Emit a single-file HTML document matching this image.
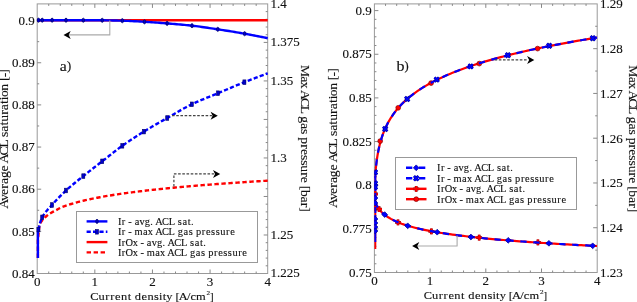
<!DOCTYPE html><html><head><meta charset="utf-8"><style>html,body{margin:0;padding:0;background:#fff;width:637px;height:302px;overflow:hidden}</style></head><body><svg width="637" height="302" viewBox="0 0 637 302" style="display:block;font-family:'Liberation Serif', serif;will-change:transform">
<rect width="637" height="302" fill="#fff"/>
<rect x="37.2" y="3.9" width="230.5" height="269.6" fill="none" stroke="#999999" stroke-width="1"/>
<line x1="48.73" y1="273.5" x2="48.73" y2="271.5" stroke="#888888" stroke-width="1" />
<line x1="48.73" y1="3.9" x2="48.73" y2="5.9" stroke="#888888" stroke-width="1" />
<line x1="60.25" y1="273.5" x2="60.25" y2="271.5" stroke="#888888" stroke-width="1" />
<line x1="60.25" y1="3.9" x2="60.25" y2="5.9" stroke="#888888" stroke-width="1" />
<line x1="71.78" y1="273.5" x2="71.78" y2="271.5" stroke="#888888" stroke-width="1" />
<line x1="71.78" y1="3.9" x2="71.78" y2="5.9" stroke="#888888" stroke-width="1" />
<line x1="83.3" y1="273.5" x2="83.3" y2="271.5" stroke="#888888" stroke-width="1" />
<line x1="83.3" y1="3.9" x2="83.3" y2="5.9" stroke="#888888" stroke-width="1" />
<line x1="94.83" y1="273.5" x2="94.83" y2="269.5" stroke="#888888" stroke-width="1" />
<line x1="94.83" y1="3.9" x2="94.83" y2="7.9" stroke="#888888" stroke-width="1" />
<line x1="106.35" y1="273.5" x2="106.35" y2="271.5" stroke="#888888" stroke-width="1" />
<line x1="106.35" y1="3.9" x2="106.35" y2="5.9" stroke="#888888" stroke-width="1" />
<line x1="117.88" y1="273.5" x2="117.88" y2="271.5" stroke="#888888" stroke-width="1" />
<line x1="117.88" y1="3.9" x2="117.88" y2="5.9" stroke="#888888" stroke-width="1" />
<line x1="129.4" y1="273.5" x2="129.4" y2="271.5" stroke="#888888" stroke-width="1" />
<line x1="129.4" y1="3.9" x2="129.4" y2="5.9" stroke="#888888" stroke-width="1" />
<line x1="140.93" y1="273.5" x2="140.93" y2="271.5" stroke="#888888" stroke-width="1" />
<line x1="140.93" y1="3.9" x2="140.93" y2="5.9" stroke="#888888" stroke-width="1" />
<line x1="152.45" y1="273.5" x2="152.45" y2="269.5" stroke="#888888" stroke-width="1" />
<line x1="152.45" y1="3.9" x2="152.45" y2="7.9" stroke="#888888" stroke-width="1" />
<line x1="163.98" y1="273.5" x2="163.98" y2="271.5" stroke="#888888" stroke-width="1" />
<line x1="163.98" y1="3.9" x2="163.98" y2="5.9" stroke="#888888" stroke-width="1" />
<line x1="175.5" y1="273.5" x2="175.5" y2="271.5" stroke="#888888" stroke-width="1" />
<line x1="175.5" y1="3.9" x2="175.5" y2="5.9" stroke="#888888" stroke-width="1" />
<line x1="187.02" y1="273.5" x2="187.02" y2="271.5" stroke="#888888" stroke-width="1" />
<line x1="187.02" y1="3.9" x2="187.02" y2="5.9" stroke="#888888" stroke-width="1" />
<line x1="198.55" y1="273.5" x2="198.55" y2="271.5" stroke="#888888" stroke-width="1" />
<line x1="198.55" y1="3.9" x2="198.55" y2="5.9" stroke="#888888" stroke-width="1" />
<line x1="210.07" y1="273.5" x2="210.07" y2="269.5" stroke="#888888" stroke-width="1" />
<line x1="210.07" y1="3.9" x2="210.07" y2="7.9" stroke="#888888" stroke-width="1" />
<line x1="221.6" y1="273.5" x2="221.6" y2="271.5" stroke="#888888" stroke-width="1" />
<line x1="221.6" y1="3.9" x2="221.6" y2="5.9" stroke="#888888" stroke-width="1" />
<line x1="233.12" y1="273.5" x2="233.12" y2="271.5" stroke="#888888" stroke-width="1" />
<line x1="233.12" y1="3.9" x2="233.12" y2="5.9" stroke="#888888" stroke-width="1" />
<line x1="244.65" y1="273.5" x2="244.65" y2="271.5" stroke="#888888" stroke-width="1" />
<line x1="244.65" y1="3.9" x2="244.65" y2="5.9" stroke="#888888" stroke-width="1" />
<line x1="256.18" y1="273.5" x2="256.18" y2="271.5" stroke="#888888" stroke-width="1" />
<line x1="256.18" y1="3.9" x2="256.18" y2="5.9" stroke="#888888" stroke-width="1" />
<line x1="37.2" y1="252.42" x2="39.2" y2="252.42" stroke="#888888" stroke-width="1" />
<line x1="37.2" y1="231.35" x2="41.2" y2="231.35" stroke="#888888" stroke-width="1" />
<line x1="37.2" y1="210.27" x2="39.2" y2="210.27" stroke="#888888" stroke-width="1" />
<line x1="37.2" y1="189.2" x2="41.2" y2="189.2" stroke="#888888" stroke-width="1" />
<line x1="37.2" y1="168.12" x2="39.2" y2="168.12" stroke="#888888" stroke-width="1" />
<line x1="37.2" y1="147.05" x2="41.2" y2="147.05" stroke="#888888" stroke-width="1" />
<line x1="37.2" y1="125.97" x2="39.2" y2="125.97" stroke="#888888" stroke-width="1" />
<line x1="37.2" y1="104.9" x2="41.2" y2="104.9" stroke="#888888" stroke-width="1" />
<line x1="37.2" y1="83.82" x2="39.2" y2="83.82" stroke="#888888" stroke-width="1" />
<line x1="37.2" y1="62.75" x2="41.2" y2="62.75" stroke="#888888" stroke-width="1" />
<line x1="37.2" y1="41.67" x2="39.2" y2="41.67" stroke="#888888" stroke-width="1" />
<line x1="37.2" y1="20.6" x2="41.2" y2="20.6" stroke="#888888" stroke-width="1" />
<line x1="267.7" y1="265.8" x2="265.7" y2="265.8" stroke="#888888" stroke-width="1" />
<line x1="267.7" y1="258.09" x2="265.7" y2="258.09" stroke="#888888" stroke-width="1" />
<line x1="267.7" y1="250.39" x2="265.7" y2="250.39" stroke="#888888" stroke-width="1" />
<line x1="267.7" y1="242.69" x2="265.7" y2="242.69" stroke="#888888" stroke-width="1" />
<line x1="267.7" y1="234.99" x2="263.7" y2="234.99" stroke="#888888" stroke-width="1" />
<line x1="267.7" y1="227.28" x2="265.7" y2="227.28" stroke="#888888" stroke-width="1" />
<line x1="267.7" y1="219.58" x2="265.7" y2="219.58" stroke="#888888" stroke-width="1" />
<line x1="267.7" y1="211.88" x2="265.7" y2="211.88" stroke="#888888" stroke-width="1" />
<line x1="267.7" y1="204.17" x2="265.7" y2="204.17" stroke="#888888" stroke-width="1" />
<line x1="267.7" y1="196.47" x2="263.7" y2="196.47" stroke="#888888" stroke-width="1" />
<line x1="267.7" y1="188.77" x2="265.7" y2="188.77" stroke="#888888" stroke-width="1" />
<line x1="267.7" y1="181.07" x2="265.7" y2="181.07" stroke="#888888" stroke-width="1" />
<line x1="267.7" y1="173.36" x2="265.7" y2="173.36" stroke="#888888" stroke-width="1" />
<line x1="267.7" y1="165.66" x2="265.7" y2="165.66" stroke="#888888" stroke-width="1" />
<line x1="267.7" y1="157.96" x2="263.7" y2="157.96" stroke="#888888" stroke-width="1" />
<line x1="267.7" y1="150.25" x2="265.7" y2="150.25" stroke="#888888" stroke-width="1" />
<line x1="267.7" y1="142.55" x2="265.7" y2="142.55" stroke="#888888" stroke-width="1" />
<line x1="267.7" y1="134.85" x2="265.7" y2="134.85" stroke="#888888" stroke-width="1" />
<line x1="267.7" y1="127.15" x2="265.7" y2="127.15" stroke="#888888" stroke-width="1" />
<line x1="267.7" y1="119.44" x2="263.7" y2="119.44" stroke="#888888" stroke-width="1" />
<line x1="267.7" y1="111.74" x2="265.7" y2="111.74" stroke="#888888" stroke-width="1" />
<line x1="267.7" y1="104.04" x2="265.7" y2="104.04" stroke="#888888" stroke-width="1" />
<line x1="267.7" y1="96.33" x2="265.7" y2="96.33" stroke="#888888" stroke-width="1" />
<line x1="267.7" y1="88.63" x2="265.7" y2="88.63" stroke="#888888" stroke-width="1" />
<line x1="267.7" y1="80.93" x2="263.7" y2="80.93" stroke="#888888" stroke-width="1" />
<line x1="267.7" y1="73.23" x2="265.7" y2="73.23" stroke="#888888" stroke-width="1" />
<line x1="267.7" y1="65.52" x2="265.7" y2="65.52" stroke="#888888" stroke-width="1" />
<line x1="267.7" y1="57.82" x2="265.7" y2="57.82" stroke="#888888" stroke-width="1" />
<line x1="267.7" y1="50.12" x2="265.7" y2="50.12" stroke="#888888" stroke-width="1" />
<line x1="267.7" y1="42.41" x2="263.7" y2="42.41" stroke="#888888" stroke-width="1" />
<line x1="267.7" y1="34.71" x2="265.7" y2="34.71" stroke="#888888" stroke-width="1" />
<line x1="267.7" y1="27.01" x2="265.7" y2="27.01" stroke="#888888" stroke-width="1" />
<line x1="267.7" y1="19.31" x2="265.7" y2="19.31" stroke="#888888" stroke-width="1" />
<line x1="267.7" y1="11.6" x2="265.7" y2="11.6" stroke="#888888" stroke-width="1" />
<line x1="37.2" y1="20.2" x2="267.7" y2="20.2" stroke="#ff0000" stroke-width="2.4" />
<polyline points="37.2,20.2 39.14,20.2 41.07,20.2 43.01,20.2 44.95,20.2 46.88,20.2 48.82,20.2 50.76,20.2 52.7,20.2 54.63,20.21 56.57,20.21 58.51,20.21 60.44,20.21 62.38,20.21 64.32,20.22 66.25,20.22 68.19,20.22 70.13,20.22 72.07,20.23 74,20.23 75.94,20.23 77.88,20.24 79.81,20.24 81.75,20.24 83.69,20.25 85.62,20.25 87.56,20.26 89.5,20.26 91.44,20.27 93.37,20.27 95.31,20.28 97.25,20.28 99.18,20.29 101.12,20.3 103.06,20.3 104.99,20.32 106.93,20.34 108.87,20.37 110.81,20.4 112.74,20.45 114.68,20.49 116.62,20.54 118.55,20.59 120.49,20.65 122.43,20.7 124.36,20.76 126.3,20.84 128.24,20.92 130.17,21.01 132.11,21.1 134.05,21.2 135.99,21.31 137.92,21.42 139.86,21.53 141.8,21.64 143.73,21.76 145.67,21.87 147.61,21.99 149.54,22.11 151.48,22.24 153.42,22.37 155.36,22.51 157.29,22.65 159.23,22.79 161.17,22.94 163.1,23.08 165.04,23.24 166.98,23.39 168.91,23.55 170.85,23.7 172.79,23.86 174.73,24.03 176.66,24.2 178.6,24.37 180.54,24.54 182.47,24.72 184.41,24.91 186.35,25.1 188.28,25.3 190.22,25.51 192.16,25.72 194.09,25.94 196.03,26.18 197.97,26.43 199.91,26.68 201.84,26.95 203.78,27.23 205.72,27.51 207.65,27.79 209.59,28.08 211.53,28.38 213.46,28.67 215.4,28.97 217.34,29.26 219.28,29.55 221.21,29.85 223.15,30.15 225.09,30.45 227.02,30.76 228.96,31.06 230.9,31.38 232.83,31.69 234.77,32.01 236.71,32.34 238.65,32.66 240.58,33 242.52,33.33 244.46,33.67 246.39,34.02 248.33,34.37 250.27,34.73 252.2,35.1 254.14,35.47 256.08,35.84 258.02,36.23 259.95,36.61 261.89,37 263.83,37.4 265.76,37.8 267.7,38.2" fill="none" stroke="#0000ff" stroke-width="2.4" stroke-linejoin="round" />
<ellipse cx="38.5" cy="20.2" rx="1.3" ry="2.1" fill="#0000cc" stroke="#000066" stroke-width="0.7"/>
<ellipse cx="42.2" cy="20.2" rx="1.3" ry="2.1" fill="#0000cc" stroke="#000066" stroke-width="0.7"/>
<ellipse cx="52.1" cy="20.2" rx="1.3" ry="2.1" fill="#0000cc" stroke="#000066" stroke-width="0.7"/>
<ellipse cx="66" cy="20.22" rx="1.3" ry="2.1" fill="#0000cc" stroke="#000066" stroke-width="0.7"/>
<ellipse cx="83.3" cy="20.25" rx="1.3" ry="2.1" fill="#0000cc" stroke="#000066" stroke-width="0.7"/>
<ellipse cx="102.2" cy="20.3" rx="1.3" ry="2.1" fill="#0000cc" stroke="#000066" stroke-width="0.7"/>
<ellipse cx="122.3" cy="20.7" rx="1.3" ry="2.1" fill="#0000cc" stroke="#000066" stroke-width="0.7"/>
<ellipse cx="144.5" cy="21.8" rx="1.3" ry="2.1" fill="#0000cc" stroke="#000066" stroke-width="0.7"/>
<ellipse cx="167.1" cy="23.4" rx="1.3" ry="2.1" fill="#0000cc" stroke="#000066" stroke-width="0.7"/>
<ellipse cx="192" cy="25.7" rx="1.3" ry="2.1" fill="#0000cc" stroke="#000066" stroke-width="0.7"/>
<ellipse cx="217.8" cy="29.33" rx="1.3" ry="2.1" fill="#0000cc" stroke="#000066" stroke-width="0.7"/>
<ellipse cx="244.6" cy="33.7" rx="1.3" ry="2.1" fill="#0000cc" stroke="#000066" stroke-width="0.7"/>
<polyline points="37.9,258 37.9,240 39.35,225.84 40.79,222.36 42.24,220.22 43.68,218.62 45.13,217.23 46.57,215.98 48.02,214.86 49.46,213.85 50.91,212.94 52.35,212.14 53.8,211.39 55.24,210.66 56.69,209.87 58.13,209.04 59.58,208.25 61.02,207.58 62.47,206.99 63.92,206.45 65.36,205.93 66.81,205.42 68.25,204.93 69.7,204.46 71.14,204 72.59,203.56 74.03,203.14 75.48,202.73 76.92,202.33 78.37,201.95 79.81,201.57 81.26,201.21 82.7,200.85 84.15,200.51 85.59,200.17 87.04,199.85 88.48,199.53 89.93,199.21 91.38,198.91 92.82,198.61 94.27,198.32 95.71,198.03 97.16,197.75 98.6,197.48 100.05,197.21 101.49,196.95 102.94,196.69 104.38,196.44 105.83,196.19 107.27,195.94 108.72,195.7 110.16,195.46 111.61,195.23 113.05,195 114.5,194.78 115.95,194.56 117.39,194.34 118.84,194.12 120.28,193.91 121.73,193.71 123.17,193.5 124.62,193.3 126.06,193.1 127.51,192.9 128.95,192.71 130.4,192.52 131.84,192.33 133.29,192.14 134.73,191.96 136.18,191.77 137.62,191.59 139.07,191.42 140.52,191.24 141.96,191.07 143.41,190.9 144.85,190.73 146.3,190.56 147.74,190.4 149.19,190.23 150.63,190.07 152.08,189.91 153.52,189.75 154.97,189.59 156.41,189.44 157.86,189.29 159.3,189.13 160.75,188.98 162.19,188.84 163.64,188.69 165.08,188.54 166.53,188.4 167.98,188.25 169.42,188.11 170.87,187.97 172.31,187.83 173.76,187.7 175.2,187.56 176.65,187.42 178.09,187.29 179.54,187.16 180.98,187.02 182.43,186.89 183.87,186.76 185.32,186.64 186.76,186.51 188.21,186.38 189.65,186.26 191.1,186.13 192.55,186.01 193.99,185.89 195.44,185.77 196.88,185.65 198.33,185.53 199.77,185.41 201.22,185.29 202.66,185.17 204.11,185.06 205.55,184.94 207,184.83 208.44,184.71 209.89,184.6 211.33,184.49 212.78,184.38 214.22,184.27 215.67,184.16 217.12,184.05 218.56,183.94 220.01,183.84 221.45,183.73 222.9,183.62 224.34,183.52 225.79,183.41 227.23,183.31 228.68,183.21 230.12,183.11 231.57,183 233.01,182.9 234.46,182.8 235.9,182.7 237.35,182.6 238.79,182.51 240.24,182.41 241.68,182.31 243.13,182.21 244.58,182.12 246.02,182.02 247.47,181.93 248.91,181.83 250.36,181.74 251.8,181.65 253.25,181.55 254.69,181.46 256.14,181.37 257.58,181.28 259.03,181.19 260.47,181.1 261.92,181.01 263.36,180.92 264.81,180.83 266.25,180.74 267.7,180.65" fill="none" stroke="#ff0000" stroke-width="2.4" stroke-linejoin="round" stroke-dasharray="4.4 2.6"/>
<polyline points="37.9,258 37.9,232 38.4,229.6" fill="none" stroke="#0000ff" stroke-width="2.4" stroke-linejoin="round" />
<polyline points="38.4,229.6 39.94,223.15 41.48,218.81 43.02,215.86 44.56,213.48 46.09,211.46 47.63,209.68 49.17,208.04 50.71,206.42 52.25,204.71 53.79,202.98 55.33,201.28 56.87,199.62 58.41,197.99 59.94,196.4 61.48,194.85 63.02,193.33 64.56,191.85 66.1,190.41 67.64,189.01 69.18,187.64 70.72,186.31 72.26,185.02 73.8,183.74 75.33,182.49 76.87,181.24 78.41,180.01 79.95,178.78 81.49,177.55 83.03,176.32 84.57,175.08 86.11,173.85 87.65,172.63 89.18,171.42 90.72,170.21 92.26,169.01 93.8,167.81 95.34,166.62 96.88,165.42 98.42,164.23 99.96,163.04 101.5,161.85 103.03,160.65 104.57,159.44 106.11,158.23 107.65,157.01 109.19,155.8 110.73,154.58 112.27,153.37 113.81,152.16 115.35,150.97 116.89,149.79 118.42,148.63 119.96,147.49 121.5,146.37 123.04,145.28 124.58,144.2 126.12,143.13 127.66,142.08 129.2,141.04 130.74,140.01 132.27,138.99 133.81,137.99 135.35,136.99 136.89,136 138.43,135.02 139.97,134.05 141.51,133.09 143.05,132.13 144.59,131.18 146.12,130.23 147.66,129.3 149.2,128.38 150.74,127.47 152.28,126.56 153.82,125.66 155.36,124.77 156.9,123.88 158.44,123 159.98,122.12 161.51,121.24 163.05,120.36 164.59,119.49 166.13,118.61 167.67,117.73 169.21,116.85 170.75,115.96 172.29,115.06 173.83,114.17 175.36,113.27 176.9,112.38 178.44,111.49 179.98,110.6 181.52,109.73 183.06,108.87 184.6,108.02 186.14,107.19 187.68,106.37 189.21,105.58 190.75,104.81 192.29,104.06 193.83,103.34 195.37,102.63 196.91,101.94 198.45,101.26 199.99,100.6 201.53,99.95 203.07,99.3 204.6,98.67 206.14,98.04 207.68,97.41 209.22,96.79 210.76,96.17 212.3,95.55 213.84,94.92 215.38,94.29 216.92,93.65 218.45,93.01 219.99,92.36 221.53,91.71 223.07,91.06 224.61,90.41 226.15,89.75 227.69,89.1 229.23,88.45 230.77,87.8 232.3,87.16 233.84,86.51 235.38,85.87 236.92,85.23 238.46,84.6 240,83.97 241.54,83.34 243.08,82.73 244.62,82.11 246.16,81.51 247.69,80.9 249.23,80.31 250.77,79.71 252.31,79.12 253.85,78.53 255.39,77.94 256.93,77.36 258.47,76.79 260.01,76.21 261.54,75.64 263.08,75.08 264.62,74.51 266.16,73.95 267.7,73.4" fill="none" stroke="#0000ff" stroke-width="2.4" stroke-linejoin="round" stroke-dasharray="4.2 2.2"/>
<rect x="36.9" y="227.3" width="3" height="4.6" fill="#0000cc" stroke="#000066" stroke-width="0.6"/>
<rect x="40.7" y="215" width="3" height="4.6" fill="#0000cc" stroke="#000066" stroke-width="0.6"/>
<rect x="50.5" y="202.7" width="3" height="4.6" fill="#0000cc" stroke="#000066" stroke-width="0.6"/>
<rect x="64.5" y="188.2" width="3" height="4.6" fill="#0000cc" stroke="#000066" stroke-width="0.6"/>
<rect x="81.8" y="173.8" width="3" height="4.6" fill="#0000cc" stroke="#000066" stroke-width="0.6"/>
<rect x="100.7" y="159" width="3" height="4.6" fill="#0000cc" stroke="#000066" stroke-width="0.6"/>
<rect x="120.8" y="143.5" width="3" height="4.6" fill="#0000cc" stroke="#000066" stroke-width="0.6"/>
<rect x="142.4" y="129.3" width="3" height="4.6" fill="#0000cc" stroke="#000066" stroke-width="0.6"/>
<rect x="165.7" y="115.7" width="3" height="4.6" fill="#0000cc" stroke="#000066" stroke-width="0.6"/>
<rect x="190.3" y="102" width="3" height="4.6" fill="#0000cc" stroke="#000066" stroke-width="0.6"/>
<rect x="216.5" y="90.9" width="3" height="4.6" fill="#0000cc" stroke="#000066" stroke-width="0.6"/>
<rect x="242.9" y="79.9" width="3" height="4.6" fill="#0000cc" stroke="#000066" stroke-width="0.6"/>
<polyline points="109.8,20.5 109.8,34.9 69,34.9" fill="none" stroke="#aaaaaa" stroke-width="1.1" stroke-linejoin="round" />
<path d="M63.5,34.9 L70.7,30.9 L68.7,34.9 L70.7,38.9 Z" fill="#000"/>
<g stroke="#444" stroke-width="1.2" stroke-dasharray="2.6 1.6" fill="none">
<polyline points="172,115.7 212,115.7"/>
<polyline points="173.9,186.5 173.9,173.9 214,173.9"/>
</g>
<path d="M217.8,115.7 L210.6,111.7 L212.6,115.7 L210.6,119.7 Z" fill="#000"/>
<path d="M220.2,173.9 L213,169.9 L215,173.9 L213,177.9 Z" fill="#000"/>
<rect x="76.5" y="211.5" width="181" height="51" fill="#fff" stroke="#999" stroke-width="1"/>
<line x1="86.6" y1="221.4" x2="107.4" y2="221.4" stroke="#0000ff" stroke-width="2.4" />
<ellipse cx="97" cy="221.4" rx="1.3" ry="2.1" fill="#0000cc" stroke="#000066" stroke-width="0.7"/>
<line x1="86.6" y1="231.8" x2="107.4" y2="231.8" stroke="#0000ff" stroke-width="2.4" stroke-dasharray="4.2 2.2"/>
<rect x="95.5" y="229.5" width="3" height="4.6" fill="#0000cc" stroke="#000066" stroke-width="0.6"/>
<line x1="86.6" y1="242.1" x2="107.4" y2="242.1" stroke="#ff0000" stroke-width="2.4" />
<line x1="86.6" y1="252.4" x2="107.4" y2="252.4" stroke="#ff0000" stroke-width="2.4" stroke-dasharray="4.4 2.6"/>
<text transform="translate(118 224.8) scale(1.12 1)" x="0.01 3.45 6.97 9.17 12.14 14.85 19.16 23.91 28.85 31.36 33.26 39.38 45.28 50.82 53.45 57.57 62.28 65.24" y="0" font-size="9.3" fill="#111111" stroke="#111111" stroke-width="0.1">Ir - avg. ACL sat.</text>
<text transform="translate(118 235.2) scale(1.12 1)" x="0.01 3.45 6.97 9.17 12.14 14.68 22.32 26.63 31.27 33.18 39.3 45.19 50.74 53.35 58.49 63.12 67.04 69.65 74.84 78.54 83.15 87.19 91.24 96.44 100.14" y="0" font-size="9.3" fill="#111111" stroke="#111111" stroke-width="0.1">Ir - max ACL gas pressure</text>
<text transform="translate(118 245.5) scale(1.12 1)" x="0.01 3.45 6.76 13.24 17.88 20.08 23.05 25.76 30.07 34.82 39.76 42.27 44.17 50.29 56.19 61.73 64.36 68.48 73.19 76.15" y="0" font-size="9.3" fill="#111111" stroke="#111111" stroke-width="0.1">IrOx - avg. ACL sat.</text>
<text transform="translate(118 255.8) scale(1.12 1)" x="0.01 3.45 6.76 13.24 17.88 20.08 23.05 25.59 33.23 37.54 42.18 44.09 50.21 56.1 61.65 64.26 69.4 74.03 77.95 80.56 85.75 89.45 94.06 98.1 102.15 107.35 111.05" y="0" font-size="9.3" fill="#111111" stroke="#111111" stroke-width="0.1">IrOx - max ACL gas pressure</text>
<text x="34.7" y="277.7" font-size="11.6" text-anchor="end" textLength="22.75" lengthAdjust="spacingAndGlyphs" fill="#111111" stroke="#111111" stroke-width="0.12">0.84</text>
<text x="34.7" y="235.55" font-size="11.6" text-anchor="end" textLength="22.75" lengthAdjust="spacingAndGlyphs" fill="#111111" stroke="#111111" stroke-width="0.12">0.85</text>
<text x="34.7" y="193.4" font-size="11.6" text-anchor="end" textLength="22.75" lengthAdjust="spacingAndGlyphs" fill="#111111" stroke="#111111" stroke-width="0.12">0.86</text>
<text x="34.7" y="151.25" font-size="11.6" text-anchor="end" textLength="22.75" lengthAdjust="spacingAndGlyphs" fill="#111111" stroke="#111111" stroke-width="0.12">0.87</text>
<text x="34.7" y="109.1" font-size="11.6" text-anchor="end" textLength="22.75" lengthAdjust="spacingAndGlyphs" fill="#111111" stroke="#111111" stroke-width="0.12">0.88</text>
<text x="34.7" y="66.95" font-size="11.6" text-anchor="end" textLength="22.75" lengthAdjust="spacingAndGlyphs" fill="#111111" stroke="#111111" stroke-width="0.12">0.89</text>
<text x="34.7" y="24.8" font-size="11.6" text-anchor="end" textLength="16.25" lengthAdjust="spacingAndGlyphs" fill="#111111" stroke="#111111" stroke-width="0.12">0.9</text>
<text x="270.5" y="7.7" font-size="11.6" text-anchor="start" textLength="16.25" lengthAdjust="spacingAndGlyphs" fill="#111111" stroke="#111111" stroke-width="0.12">1.4</text>
<text x="270.5" y="46.21" font-size="11.6" text-anchor="start" textLength="29.25" lengthAdjust="spacingAndGlyphs" fill="#111111" stroke="#111111" stroke-width="0.12">1.375</text>
<text x="270.5" y="84.73" font-size="11.6" text-anchor="start" textLength="22.75" lengthAdjust="spacingAndGlyphs" fill="#111111" stroke="#111111" stroke-width="0.12">1.35</text>
<text x="270.5" y="161.76" font-size="11.6" text-anchor="start" textLength="16.25" lengthAdjust="spacingAndGlyphs" fill="#111111" stroke="#111111" stroke-width="0.12">1.3</text>
<text x="270.5" y="238.79" font-size="11.6" text-anchor="start" textLength="22.75" lengthAdjust="spacingAndGlyphs" fill="#111111" stroke="#111111" stroke-width="0.12">1.25</text>
<text x="270.5" y="277.3" font-size="11.6" text-anchor="start" textLength="29.25" lengthAdjust="spacingAndGlyphs" fill="#111111" stroke="#111111" stroke-width="0.12">1.225</text>
<text x="37.2" y="285.9" font-size="11.6" text-anchor="middle" textLength="6.5" lengthAdjust="spacingAndGlyphs" fill="#111111" stroke="#111111" stroke-width="0.12">0</text>
<text x="94.83" y="285.9" font-size="11.6" text-anchor="middle" textLength="6.5" lengthAdjust="spacingAndGlyphs" fill="#111111" stroke="#111111" stroke-width="0.12">1</text>
<text x="152.45" y="285.9" font-size="11.6" text-anchor="middle" textLength="6.5" lengthAdjust="spacingAndGlyphs" fill="#111111" stroke="#111111" stroke-width="0.12">2</text>
<text x="210.07" y="285.9" font-size="11.6" text-anchor="middle" textLength="6.5" lengthAdjust="spacingAndGlyphs" fill="#111111" stroke="#111111" stroke-width="0.12">3</text>
<text x="267.7" y="285.9" font-size="11.6" text-anchor="middle" textLength="6.5" lengthAdjust="spacingAndGlyphs" fill="#111111" stroke="#111111" stroke-width="0.12">4</text>
<text transform="translate(90.55 300.1) scale(1.12 1)" x="-0.21 7.15 13.19 17.55 21.82 27.15 33.15 36.59 39.57 45.51 50.83 56.73 61.15 64.44 67.62 73.03 75.8 78.72 86.01 89.19 94.21" y="0" font-size="11.1" fill="#111111" stroke="#111111" stroke-width="0.12">Current density [A/cm</text>
<text x="206.5" y="295.3" font-size="6.8" fill="#111111" stroke="#111111" stroke-width="0.12" textLength="3.6" lengthAdjust="spacingAndGlyphs">2</text>
<text x="210" y="300.1" font-size="11.1" fill="#111111" stroke="#111111" stroke-width="0.12" textLength="3.6" lengthAdjust="spacingAndGlyphs">]</text>
<text transform="translate(8.3 207.6) rotate(-90) scale(1.12 1)" x="-1.12 5.91 11.33 16.87 21.08 26.36 32.31 37.63 39.48 46.58 53.43 60.09 63.03 67.74 73.29 76.7 82.82 87.03 92.58 95.86 98.7 104.37 110.27 112.99 116.3 119.61" y="0" font-size="12.2" fill="#111111" stroke="#111111" stroke-width="0.12">Average ACL saturation [-]</text>
<text transform="translate(301.1 65.8) rotate(90) scale(1.12 1)" x="-0.77 9.32 14.26 19.79 21.64 28.75 35.59 42.26 45.09 51.06 56.44 61.07 63.9 70.01 74.2 79.56 84.23 88.81 94.94 99.13 104.45 107.16 110.83 116.8 122.36 126.31" y="0" font-size="12.2" fill="#111111" stroke="#111111" stroke-width="0.12">Max ACL gas pressure [bar]</text>
<text x="59.7" y="71.2" font-size="14.6" fill="#111111" stroke="#111111" stroke-width="0.15" textLength="7" lengthAdjust="spacingAndGlyphs">a</text>
<text x="67.1" y="70.4" font-size="12.6" fill="#111111" stroke="#111111" stroke-width="0.15" textLength="4.2" lengthAdjust="spacingAndGlyphs">)</text>
<rect x="374.4" y="3.9" width="222.8" height="268.6" fill="none" stroke="#999999" stroke-width="1"/>
<line x1="385.54" y1="272.5" x2="385.54" y2="270.5" stroke="#888888" stroke-width="1" />
<line x1="385.54" y1="3.9" x2="385.54" y2="5.9" stroke="#888888" stroke-width="1" />
<line x1="396.68" y1="272.5" x2="396.68" y2="270.5" stroke="#888888" stroke-width="1" />
<line x1="396.68" y1="3.9" x2="396.68" y2="5.9" stroke="#888888" stroke-width="1" />
<line x1="407.82" y1="272.5" x2="407.82" y2="270.5" stroke="#888888" stroke-width="1" />
<line x1="407.82" y1="3.9" x2="407.82" y2="5.9" stroke="#888888" stroke-width="1" />
<line x1="418.96" y1="272.5" x2="418.96" y2="270.5" stroke="#888888" stroke-width="1" />
<line x1="418.96" y1="3.9" x2="418.96" y2="5.9" stroke="#888888" stroke-width="1" />
<line x1="430.1" y1="272.5" x2="430.1" y2="268.5" stroke="#888888" stroke-width="1" />
<line x1="430.1" y1="3.9" x2="430.1" y2="7.9" stroke="#888888" stroke-width="1" />
<line x1="441.24" y1="272.5" x2="441.24" y2="270.5" stroke="#888888" stroke-width="1" />
<line x1="441.24" y1="3.9" x2="441.24" y2="5.9" stroke="#888888" stroke-width="1" />
<line x1="452.38" y1="272.5" x2="452.38" y2="270.5" stroke="#888888" stroke-width="1" />
<line x1="452.38" y1="3.9" x2="452.38" y2="5.9" stroke="#888888" stroke-width="1" />
<line x1="463.52" y1="272.5" x2="463.52" y2="270.5" stroke="#888888" stroke-width="1" />
<line x1="463.52" y1="3.9" x2="463.52" y2="5.9" stroke="#888888" stroke-width="1" />
<line x1="474.66" y1="272.5" x2="474.66" y2="270.5" stroke="#888888" stroke-width="1" />
<line x1="474.66" y1="3.9" x2="474.66" y2="5.9" stroke="#888888" stroke-width="1" />
<line x1="485.8" y1="272.5" x2="485.8" y2="268.5" stroke="#888888" stroke-width="1" />
<line x1="485.8" y1="3.9" x2="485.8" y2="7.9" stroke="#888888" stroke-width="1" />
<line x1="496.94" y1="272.5" x2="496.94" y2="270.5" stroke="#888888" stroke-width="1" />
<line x1="496.94" y1="3.9" x2="496.94" y2="5.9" stroke="#888888" stroke-width="1" />
<line x1="508.08" y1="272.5" x2="508.08" y2="270.5" stroke="#888888" stroke-width="1" />
<line x1="508.08" y1="3.9" x2="508.08" y2="5.9" stroke="#888888" stroke-width="1" />
<line x1="519.22" y1="272.5" x2="519.22" y2="270.5" stroke="#888888" stroke-width="1" />
<line x1="519.22" y1="3.9" x2="519.22" y2="5.9" stroke="#888888" stroke-width="1" />
<line x1="530.36" y1="272.5" x2="530.36" y2="270.5" stroke="#888888" stroke-width="1" />
<line x1="530.36" y1="3.9" x2="530.36" y2="5.9" stroke="#888888" stroke-width="1" />
<line x1="541.5" y1="272.5" x2="541.5" y2="268.5" stroke="#888888" stroke-width="1" />
<line x1="541.5" y1="3.9" x2="541.5" y2="7.9" stroke="#888888" stroke-width="1" />
<line x1="552.64" y1="272.5" x2="552.64" y2="270.5" stroke="#888888" stroke-width="1" />
<line x1="552.64" y1="3.9" x2="552.64" y2="5.9" stroke="#888888" stroke-width="1" />
<line x1="563.78" y1="272.5" x2="563.78" y2="270.5" stroke="#888888" stroke-width="1" />
<line x1="563.78" y1="3.9" x2="563.78" y2="5.9" stroke="#888888" stroke-width="1" />
<line x1="574.92" y1="272.5" x2="574.92" y2="270.5" stroke="#888888" stroke-width="1" />
<line x1="574.92" y1="3.9" x2="574.92" y2="5.9" stroke="#888888" stroke-width="1" />
<line x1="586.06" y1="272.5" x2="586.06" y2="270.5" stroke="#888888" stroke-width="1" />
<line x1="586.06" y1="3.9" x2="586.06" y2="5.9" stroke="#888888" stroke-width="1" />
<line x1="374.4" y1="263.77" x2="376.4" y2="263.77" stroke="#888888" stroke-width="1" />
<line x1="374.4" y1="255.04" x2="376.4" y2="255.04" stroke="#888888" stroke-width="1" />
<line x1="374.4" y1="246.31" x2="376.4" y2="246.31" stroke="#888888" stroke-width="1" />
<line x1="374.4" y1="237.58" x2="376.4" y2="237.58" stroke="#888888" stroke-width="1" />
<line x1="374.4" y1="228.85" x2="378.4" y2="228.85" stroke="#888888" stroke-width="1" />
<line x1="374.4" y1="220.12" x2="376.4" y2="220.12" stroke="#888888" stroke-width="1" />
<line x1="374.4" y1="211.39" x2="376.4" y2="211.39" stroke="#888888" stroke-width="1" />
<line x1="374.4" y1="202.66" x2="376.4" y2="202.66" stroke="#888888" stroke-width="1" />
<line x1="374.4" y1="193.93" x2="376.4" y2="193.93" stroke="#888888" stroke-width="1" />
<line x1="374.4" y1="185.2" x2="378.4" y2="185.2" stroke="#888888" stroke-width="1" />
<line x1="374.4" y1="176.47" x2="376.4" y2="176.47" stroke="#888888" stroke-width="1" />
<line x1="374.4" y1="167.74" x2="376.4" y2="167.74" stroke="#888888" stroke-width="1" />
<line x1="374.4" y1="159.01" x2="376.4" y2="159.01" stroke="#888888" stroke-width="1" />
<line x1="374.4" y1="150.28" x2="376.4" y2="150.28" stroke="#888888" stroke-width="1" />
<line x1="374.4" y1="141.55" x2="378.4" y2="141.55" stroke="#888888" stroke-width="1" />
<line x1="374.4" y1="132.82" x2="376.4" y2="132.82" stroke="#888888" stroke-width="1" />
<line x1="374.4" y1="124.09" x2="376.4" y2="124.09" stroke="#888888" stroke-width="1" />
<line x1="374.4" y1="115.36" x2="376.4" y2="115.36" stroke="#888888" stroke-width="1" />
<line x1="374.4" y1="106.63" x2="376.4" y2="106.63" stroke="#888888" stroke-width="1" />
<line x1="374.4" y1="97.9" x2="378.4" y2="97.9" stroke="#888888" stroke-width="1" />
<line x1="374.4" y1="89.17" x2="376.4" y2="89.17" stroke="#888888" stroke-width="1" />
<line x1="374.4" y1="80.44" x2="376.4" y2="80.44" stroke="#888888" stroke-width="1" />
<line x1="374.4" y1="71.71" x2="376.4" y2="71.71" stroke="#888888" stroke-width="1" />
<line x1="374.4" y1="62.98" x2="376.4" y2="62.98" stroke="#888888" stroke-width="1" />
<line x1="374.4" y1="54.25" x2="378.4" y2="54.25" stroke="#888888" stroke-width="1" />
<line x1="374.4" y1="45.52" x2="376.4" y2="45.52" stroke="#888888" stroke-width="1" />
<line x1="374.4" y1="36.79" x2="376.4" y2="36.79" stroke="#888888" stroke-width="1" />
<line x1="374.4" y1="28.06" x2="376.4" y2="28.06" stroke="#888888" stroke-width="1" />
<line x1="374.4" y1="19.33" x2="376.4" y2="19.33" stroke="#888888" stroke-width="1" />
<line x1="374.4" y1="10.6" x2="378.4" y2="10.6" stroke="#888888" stroke-width="1" />
<line x1="597.2" y1="250.12" x2="595.2" y2="250.12" stroke="#888888" stroke-width="1" />
<line x1="597.2" y1="227.73" x2="593.2" y2="227.73" stroke="#888888" stroke-width="1" />
<line x1="597.2" y1="205.35" x2="595.2" y2="205.35" stroke="#888888" stroke-width="1" />
<line x1="597.2" y1="182.97" x2="593.2" y2="182.97" stroke="#888888" stroke-width="1" />
<line x1="597.2" y1="160.58" x2="595.2" y2="160.58" stroke="#888888" stroke-width="1" />
<line x1="597.2" y1="138.2" x2="593.2" y2="138.2" stroke="#888888" stroke-width="1" />
<line x1="597.2" y1="115.82" x2="595.2" y2="115.82" stroke="#888888" stroke-width="1" />
<line x1="597.2" y1="93.43" x2="593.2" y2="93.43" stroke="#888888" stroke-width="1" />
<line x1="597.2" y1="71.05" x2="595.2" y2="71.05" stroke="#888888" stroke-width="1" />
<line x1="597.2" y1="48.67" x2="593.2" y2="48.67" stroke="#888888" stroke-width="1" />
<line x1="597.2" y1="26.28" x2="595.2" y2="26.28" stroke="#888888" stroke-width="1" />
<clipPath id="cb"><rect x="374.4" y="3.9" width="222.8" height="268.6"/></clipPath>
<g clip-path="url(#cb)">
<polyline points="375.2,176 375.07,177.28 375.34,173.69 375.61,170.57 375.87,167.8 376.14,165.31 376.41,163.05 376.68,160.97 376.95,159.06 377.22,157.27 377.48,155.6 377.75,154.03 378.02,152.55 378.29,151.14 378.56,149.81 378.83,148.54 379.1,147.33 379.36,146.17 379.63,145.06 379.9,143.99 380.17,142.96 380.44,141.97 380.71,141.01 380.98,140.08 381.24,139.19 381.51,138.32 381.78,137.47 382.05,136.66 382.32,135.86 382.59,135.09 382.85,134.34 383.12,133.6 383.39,132.89 383.66,132.19 383.93,131.51 384.2,130.84 384.47,130.19 384.73,129.55 385,128.93 385.27,128.32 385.54,127.72 385.54,127.72 388.22,122.34 390.9,117.78 393.58,113.81 396.26,110.3 398.94,107.14 401.62,104.26 404.29,101.62 406.97,99.18 409.65,96.91 412.33,94.79 415.01,92.79 417.69,90.91 420.37,89.12 423.05,87.43 425.73,85.82 428.41,84.27 431.09,82.8 433.77,81.38 436.45,80.02 439.12,78.71 441.8,77.45 444.48,76.23 447.16,75.06 449.84,73.92 452.52,72.81 455.2,71.74 457.88,70.7 460.56,69.69 463.24,68.7 465.92,67.75 468.6,66.81 471.28,65.9 473.95,65.01 476.63,64.15 479.31,63.3 481.99,62.47 484.67,61.66 487.35,60.87 490.03,60.09 492.71,59.33 495.39,58.59 498.07,57.86 500.75,57.14 503.43,56.44 506.11,55.75 508.79,55.07 511.46,54.4 514.14,53.75 516.82,53.11 519.5,52.47 522.18,51.85 524.86,51.24 527.54,50.64 530.22,50.04 532.9,49.46 535.58,48.88 538.26,48.32 540.94,47.76 543.62,47.21 546.29,46.66 548.97,46.13 551.65,45.6 554.33,45.08 557.01,44.56 559.69,44.05 562.37,43.55 565.05,43.06 567.73,42.57 570.41,42.09 573.09,41.61 575.77,41.14 578.45,40.67 581.12,40.21 583.8,39.76 586.48,39.31 589.16,38.86 591.84,38.42 594.52,37.99 597.2,37.55" fill="none" stroke="#ff0000" stroke-width="2.2" stroke-linejoin="round" />
<line x1="375.2" y1="249" x2="375.2" y2="176" stroke="#ff0000" stroke-width="2.2" />
<polyline points="375.2,202 375.07,201.88 375.34,202.54 375.61,203.16 375.87,203.75 376.14,204.31 376.41,204.84 376.68,205.35 376.95,205.84 377.22,206.3 377.48,206.75 377.75,207.18 378.02,207.59 378.29,207.99 378.56,208.38 378.83,208.75 379.1,209.11 379.36,209.46 379.63,209.8 379.9,210.13 380.17,210.45 380.44,210.76 380.71,211.07 380.98,211.36 381.24,211.65 381.51,211.93 381.78,212.2 382.05,212.47 382.32,212.73 382.59,212.98 382.85,213.23 383.12,213.48 383.39,213.71 383.66,213.95 383.93,214.18 384.2,214.4 384.47,214.62 384.73,214.84 385,215.05 385.27,215.25 385.54,215.46 385.54,215.46 388.22,217.31 390.9,218.9 393.58,220.3 396.26,221.53 398.94,222.65 401.62,223.67 404.29,224.6 406.97,225.46 409.65,226.25 412.33,227 415.01,227.7 417.69,228.36 420.37,228.98 423.05,229.57 425.73,230.13 428.41,230.66 431.09,231.17 433.77,231.66 436.45,232.12 439.12,232.57 441.8,233 444.48,233.42 447.16,233.82 449.84,234.2 452.52,234.58 455.2,234.94 457.88,235.29 460.56,235.63 463.24,235.96 465.92,236.28 468.6,236.59 471.28,236.89 473.95,237.19 476.63,237.48 479.31,237.76 481.99,238.03 484.67,238.3 487.35,238.56 490.03,238.81 492.71,239.06 495.39,239.31 498.07,239.55 500.75,239.78 503.43,240.01 506.11,240.23 508.79,240.45 511.46,240.67 514.14,240.88 516.82,241.09 519.5,241.29 522.18,241.49 524.86,241.69 527.54,241.88 530.22,242.07 532.9,242.26 535.58,242.44 538.26,242.62 540.94,242.8 543.62,242.98 546.29,243.15 548.97,243.32 551.65,243.49 554.33,243.65 557.01,243.82 559.69,243.98 562.37,244.13 565.05,244.29 567.73,244.44 570.41,244.6 573.09,244.75 575.77,244.89 578.45,245.04 581.12,245.18 583.8,245.33 586.48,245.47 589.16,245.6 591.84,245.74 594.52,245.88 597.2,246.01" fill="none" stroke="#ff0000" stroke-width="2.2" stroke-linejoin="round" />
<circle cx="380.2" cy="141.1" r="2.4" fill="#ff0000" stroke="#8b0000" stroke-width="0.7"/>
<circle cx="398.2" cy="107.8" r="2.4" fill="#ff0000" stroke="#8b0000" stroke-width="0.7"/>
<circle cx="431.1" cy="83.1" r="2.4" fill="#ff0000" stroke="#8b0000" stroke-width="0.7"/>
<circle cx="479.3" cy="63.6" r="2.4" fill="#ff0000" stroke="#8b0000" stroke-width="0.7"/>
<circle cx="537.6" cy="48.6" r="2.4" fill="#ff0000" stroke="#8b0000" stroke-width="0.7"/>
<path d="M376.2,209.1 L382,209.1 M379.1,206.2 L379.1,212" stroke="#8b0000" stroke-width="2.8" fill="none"/>
<path d="M376.2,209.1 L382,209.1 M379.1,206.2 L379.1,212" stroke="#ff0000" stroke-width="1.7" fill="none"/>
<path d="M395.1,222.3 L400.9,222.3 M398,219.4 L398,225.2" stroke="#8b0000" stroke-width="2.8" fill="none"/>
<path d="M395.1,222.3 L400.9,222.3 M398,219.4 L398,225.2" stroke="#ff0000" stroke-width="1.7" fill="none"/>
<path d="M428.5,231.4 L434.3,231.4 M431.4,228.5 L431.4,234.3" stroke="#8b0000" stroke-width="2.8" fill="none"/>
<path d="M428.5,231.4 L434.3,231.4 M431.4,228.5 L431.4,234.3" stroke="#ff0000" stroke-width="1.7" fill="none"/>
<path d="M476.3,237.7 L482.1,237.7 M479.2,234.8 L479.2,240.6" stroke="#8b0000" stroke-width="2.8" fill="none"/>
<path d="M476.3,237.7 L482.1,237.7 M479.2,234.8 L479.2,240.6" stroke="#ff0000" stroke-width="1.7" fill="none"/>
<path d="M535,242.3 L540.8,242.3 M537.9,239.4 L537.9,245.2" stroke="#8b0000" stroke-width="2.8" fill="none"/>
<path d="M535,242.3 L540.8,242.3 M537.9,239.4 L537.9,245.2" stroke="#ff0000" stroke-width="1.7" fill="none"/>
<path d="M372.1,194 L377.9,194 M375,191.1 L375,196.9" stroke="#8b0000" stroke-width="2.8" fill="none"/>
<path d="M372.1,194 L377.9,194 M375,191.1 L375,196.9" stroke="#ff0000" stroke-width="1.7" fill="none"/>
<path d="M372.1,208 L377.9,208 M375,205.1 L375,210.9" stroke="#8b0000" stroke-width="2.8" fill="none"/>
<path d="M372.1,208 L377.9,208 M375,205.1 L375,210.9" stroke="#ff0000" stroke-width="1.7" fill="none"/>
<polyline points="375.2,176 375.07,177.28 375.34,173.69 375.61,170.57 375.87,167.8 376.14,165.31 376.41,163.05 376.68,160.97 376.95,159.06 377.22,157.27 377.48,155.6 377.75,154.03 378.02,152.55 378.29,151.14 378.56,149.81 378.83,148.54 379.1,147.33 379.36,146.17 379.63,145.06 379.9,143.99 380.17,142.96 380.44,141.97 380.71,141.01 380.98,140.08 381.24,139.19 381.51,138.32 381.78,137.47 382.05,136.66 382.32,135.86 382.59,135.09 382.85,134.34 383.12,133.6 383.39,132.89 383.66,132.19 383.93,131.51 384.2,130.84 384.47,130.19 384.73,129.55 385,128.93 385.27,128.32 385.54,127.72 385.54,127.72 388.22,122.34 390.9,117.78 393.58,113.81 396.26,110.3 398.94,107.14 401.62,104.26 404.29,101.62 406.97,99.18 409.65,96.91 412.33,94.79 415.01,92.79 417.69,90.91 420.37,89.12 423.05,87.43 425.73,85.82 428.41,84.27 431.09,82.8 433.77,81.38 436.45,80.02 439.12,78.71 441.8,77.45 444.48,76.23 447.16,75.06 449.84,73.92 452.52,72.81 455.2,71.74 457.88,70.7 460.56,69.69 463.24,68.7 465.92,67.75 468.6,66.81 471.28,65.9 473.95,65.01 476.63,64.15 479.31,63.3 481.99,62.47 484.67,61.66 487.35,60.87 490.03,60.09 492.71,59.33 495.39,58.59 498.07,57.86 500.75,57.14 503.43,56.44 506.11,55.75 508.79,55.07 511.46,54.4 514.14,53.75 516.82,53.11 519.5,52.47 522.18,51.85 524.86,51.24 527.54,50.64 530.22,50.04 532.9,49.46 535.58,48.88 538.26,48.32 540.94,47.76 543.62,47.21 546.29,46.66 548.97,46.13 551.65,45.6 554.33,45.08 557.01,44.56 559.69,44.05 562.37,43.55 565.05,43.06 567.73,42.57 570.41,42.09 573.09,41.61 575.77,41.14 578.45,40.67 581.12,40.21 583.8,39.76 586.48,39.31 589.16,38.86 591.84,38.42 594.52,37.99 597.2,37.55" fill="none" stroke="#0000ff" stroke-width="2.2" stroke-linejoin="round" stroke-dasharray="6.3 6.7"/>
<polyline points="375.2,202 375.07,201.88 375.34,202.54 375.61,203.16 375.87,203.75 376.14,204.31 376.41,204.84 376.68,205.35 376.95,205.84 377.22,206.3 377.48,206.75 377.75,207.18 378.02,207.59 378.29,207.99 378.56,208.38 378.83,208.75 379.1,209.11 379.36,209.46 379.63,209.8 379.9,210.13 380.17,210.45 380.44,210.76 380.71,211.07 380.98,211.36 381.24,211.65 381.51,211.93 381.78,212.2 382.05,212.47 382.32,212.73 382.59,212.98 382.85,213.23 383.12,213.48 383.39,213.71 383.66,213.95 383.93,214.18 384.2,214.4 384.47,214.62 384.73,214.84 385,215.05 385.27,215.25 385.54,215.46 385.54,215.46 388.22,217.31 390.9,218.9 393.58,220.3 396.26,221.53 398.94,222.65 401.62,223.67 404.29,224.6 406.97,225.46 409.65,226.25 412.33,227 415.01,227.7 417.69,228.36 420.37,228.98 423.05,229.57 425.73,230.13 428.41,230.66 431.09,231.17 433.77,231.66 436.45,232.12 439.12,232.57 441.8,233 444.48,233.42 447.16,233.82 449.84,234.2 452.52,234.58 455.2,234.94 457.88,235.29 460.56,235.63 463.24,235.96 465.92,236.28 468.6,236.59 471.28,236.89 473.95,237.19 476.63,237.48 479.31,237.76 481.99,238.03 484.67,238.3 487.35,238.56 490.03,238.81 492.71,239.06 495.39,239.31 498.07,239.55 500.75,239.78 503.43,240.01 506.11,240.23 508.79,240.45 511.46,240.67 514.14,240.88 516.82,241.09 519.5,241.29 522.18,241.49 524.86,241.69 527.54,241.88 530.22,242.07 532.9,242.26 535.58,242.44 538.26,242.62 540.94,242.8 543.62,242.98 546.29,243.15 548.97,243.32 551.65,243.49 554.33,243.65 557.01,243.82 559.69,243.98 562.37,244.13 565.05,244.29 567.73,244.44 570.41,244.6 573.09,244.75 575.77,244.89 578.45,245.04 581.12,245.18 583.8,245.33 586.48,245.47 589.16,245.6 591.84,245.74 594.52,245.88 597.2,246.01" fill="none" stroke="#0000ff" stroke-width="2.2" stroke-linejoin="round" stroke-dasharray="6.3 6.7"/>
<line x1="375.2" y1="242" x2="375.2" y2="176" stroke="#0000ff" stroke-width="2.2" stroke-dasharray="15 2 10 2 6 2 12 2 18 3"/>
<path d="M383,126.8 L387.4,131.2 M383,131.2 L387.4,126.8" stroke="#00008b" stroke-width="2.8" fill="none"/>
<path d="M383,126.8 L387.4,131.2 M383,131.2 L387.4,126.8" stroke="#0000ff" stroke-width="1.6" fill="none"/>
<path d="M405,96.8 L409.4,101.2 M405,101.2 L409.4,96.8" stroke="#00008b" stroke-width="2.8" fill="none"/>
<path d="M405,96.8 L409.4,101.2 M405,101.2 L409.4,96.8" stroke="#0000ff" stroke-width="1.6" fill="none"/>
<path d="M434.5,77.4 L438.9,81.8 M434.5,81.8 L438.9,77.4" stroke="#00008b" stroke-width="2.8" fill="none"/>
<path d="M434.5,77.4 L438.9,81.8 M434.5,81.8 L438.9,77.4" stroke="#0000ff" stroke-width="1.6" fill="none"/>
<path d="M468.4,64.2 L472.8,68.6 M468.4,68.6 L472.8,64.2" stroke="#00008b" stroke-width="2.8" fill="none"/>
<path d="M468.4,64.2 L472.8,68.6 M468.4,68.6 L472.8,64.2" stroke="#0000ff" stroke-width="1.6" fill="none"/>
<path d="M505.7,53 L510.1,57.4 M505.7,57.4 L510.1,53" stroke="#00008b" stroke-width="2.8" fill="none"/>
<path d="M505.7,53 L510.1,57.4 M505.7,57.4 L510.1,53" stroke="#0000ff" stroke-width="1.6" fill="none"/>
<path d="M547,43.6 L551.4,48 M547,48 L551.4,43.6" stroke="#00008b" stroke-width="2.8" fill="none"/>
<path d="M547,43.6 L551.4,48 M547,48 L551.4,43.6" stroke="#0000ff" stroke-width="1.6" fill="none"/>
<path d="M590.6,36 L595,40.4 M590.6,40.4 L595,36" stroke="#00008b" stroke-width="2.8" fill="none"/>
<path d="M590.6,36 L595,40.4 M590.6,40.4 L595,36" stroke="#0000ff" stroke-width="1.6" fill="none"/>
<path d="M372.8,170.1 L377.2,174.5 M372.8,174.5 L377.2,170.1" stroke="#00008b" stroke-width="2.8" fill="none"/>
<path d="M372.8,170.1 L377.2,174.5 M372.8,174.5 L377.2,170.1" stroke="#0000ff" stroke-width="1.6" fill="none"/>
<path d="M372.8,181.3 L377.2,185.7 M372.8,185.7 L377.2,181.3" stroke="#00008b" stroke-width="2.8" fill="none"/>
<path d="M372.8,181.3 L377.2,185.7 M372.8,185.7 L377.2,181.3" stroke="#0000ff" stroke-width="1.6" fill="none"/>
<path d="M372.8,184.8 L377.2,189.2 M372.8,189.2 L377.2,184.8" stroke="#00008b" stroke-width="2.8" fill="none"/>
<path d="M372.8,184.8 L377.2,189.2 M372.8,189.2 L377.2,184.8" stroke="#0000ff" stroke-width="1.6" fill="none"/>
<path d="M384.7,211.7 L387.6,214.6 L384.7,217.5 L381.8,214.6 Z" fill="#0000ff" stroke="#00008b" stroke-width="0.7"/>
<path d="M407.7,222.9 L410.6,225.8 L407.7,228.7 L404.8,225.8 Z" fill="#0000ff" stroke="#00008b" stroke-width="0.7"/>
<path d="M437.2,229.3 L440.1,232.2 L437.2,235.1 L434.3,232.2 Z" fill="#0000ff" stroke="#00008b" stroke-width="0.7"/>
<path d="M470.9,234.1 L473.8,237 L470.9,239.9 L468,237 Z" fill="#0000ff" stroke="#00008b" stroke-width="0.7"/>
<path d="M508.2,237.4 L511.1,240.3 L508.2,243.2 L505.3,240.3 Z" fill="#0000ff" stroke="#00008b" stroke-width="0.7"/>
<path d="M548.9,240.4 L551.8,243.3 L548.9,246.2 L546,243.3 Z" fill="#0000ff" stroke="#00008b" stroke-width="0.7"/>
<path d="M592.7,242.9 L595.6,245.8 L592.7,248.7 L589.8,245.8 Z" fill="#0000ff" stroke="#00008b" stroke-width="0.7"/>
<path d="M375,195.1 L377.9,198 L375,200.9 L372.1,198 Z" fill="#0000ff" stroke="#00008b" stroke-width="0.7"/>
<path d="M375,200.1 L377.9,203 L375,205.9 L372.1,203 Z" fill="#0000ff" stroke="#00008b" stroke-width="0.7"/>
<path d="M375,216.1 L377.9,219 L375,221.9 L372.1,219 Z" fill="#0000ff" stroke="#00008b" stroke-width="0.7"/>
<path d="M375,220.1 L377.9,223 L375,225.9 L372.1,223 Z" fill="#0000ff" stroke="#00008b" stroke-width="0.7"/>
<path d="M375,224.1 L377.9,227 L375,229.9 L372.1,227 Z" fill="#0000ff" stroke="#00008b" stroke-width="0.7"/>
<path d="M375,228.1 L377.9,231 L375,233.9 L372.1,231 Z" fill="#0000ff" stroke="#00008b" stroke-width="0.7"/>
</g>
<polyline points="457.1,235.5 457.1,246 418,246" fill="none" stroke="#aaaaaa" stroke-width="1.1" stroke-linejoin="round" />
<path d="M412.1,246 L419.3,242 L417.3,246 L419.3,250 Z" fill="#000"/>
<g stroke="#444" stroke-width="1.2" stroke-dasharray="2.6 1.6" fill="none">
<polyline points="494.6,59.9 528,59.9"/>
</g>
<path d="M534.3,59.9 L527.1,55.9 L529.1,59.9 L527.1,63.9 Z" fill="#000"/>
<rect x="395.5" y="157.5" width="181" height="52" fill="#fff" stroke="#999" stroke-width="1"/>
<line x1="406" y1="167.8" x2="426.5" y2="167.8" stroke="#0000ff" stroke-width="2.4" stroke-dasharray="6.3 6.7"/>
<path d="M416.2,164.9 L419.1,167.8 L416.2,170.7 L413.3,167.8 Z" fill="#0000ff" stroke="#00008b" stroke-width="0.7"/>
<line x1="406" y1="178.3" x2="426.5" y2="178.3" stroke="#0000ff" stroke-width="2.4" stroke-dasharray="6.3 6.7"/>
<path d="M414,176.1 L418.4,180.5 M414,180.5 L418.4,176.1" stroke="#00008b" stroke-width="2.8" fill="none"/>
<path d="M414,176.1 L418.4,180.5 M414,180.5 L418.4,176.1" stroke="#0000ff" stroke-width="1.6" fill="none"/>
<line x1="406" y1="188.8" x2="426.5" y2="188.8" stroke="#ff0000" stroke-width="2.4" />
<path d="M413.3,188.8 L419.1,188.8 M416.2,185.9 L416.2,191.7" stroke="#8b0000" stroke-width="2.8" fill="none"/>
<path d="M413.3,188.8 L419.1,188.8 M416.2,185.9 L416.2,191.7" stroke="#ff0000" stroke-width="1.7" fill="none"/>
<line x1="406" y1="199.2" x2="426.5" y2="199.2" stroke="#ff0000" stroke-width="2.4" />
<circle cx="416.2" cy="199.2" r="2.4" fill="#ff0000" stroke="#8b0000" stroke-width="0.7"/>
<text transform="translate(437.1 171.2) scale(1.12 1)" x="0.01 3.45 6.97 9.17 12.14 14.85 19.16 23.91 28.85 31.36 33.26 39.38 45.28 50.82 53.45 57.57 62.28 65.24" y="0" font-size="9.3" fill="#111111" stroke="#111111" stroke-width="0.1">Ir - avg. ACL sat.</text>
<text transform="translate(437.1 181.7) scale(1.12 1)" x="0.01 3.45 6.97 9.17 12.14 14.68 22.32 26.63 31.27 33.18 39.3 45.19 50.74 53.35 58.49 63.12 67.04 69.65 74.84 78.54 83.15 87.19 91.24 96.44 100.14" y="0" font-size="9.3" fill="#111111" stroke="#111111" stroke-width="0.1">Ir - max ACL gas pressure</text>
<text transform="translate(437.1 192.2) scale(1.12 1)" x="0.01 3.45 6.76 13.24 17.88 20.08 23.05 25.76 30.07 34.82 39.76 42.27 44.17 50.29 56.19 61.73 64.36 68.48 73.19 76.15" y="0" font-size="9.3" fill="#111111" stroke="#111111" stroke-width="0.1">IrOx - avg. ACL sat.</text>
<text transform="translate(437.1 202.6) scale(1.12 1)" x="0.01 3.45 6.76 13.24 17.88 20.08 23.05 25.59 33.23 37.54 42.18 44.09 50.21 56.1 61.65 64.26 69.4 74.03 77.95 80.56 85.75 89.45 94.06 98.1 102.15 107.35 111.05" y="0" font-size="9.3" fill="#111111" stroke="#111111" stroke-width="0.1">IrOx - max ACL gas pressure</text>
<text x="371.8" y="276.7" font-size="11.6" text-anchor="end" textLength="22.75" lengthAdjust="spacingAndGlyphs" fill="#111111" stroke="#111111" stroke-width="0.12">0.75</text>
<text x="371.8" y="233.05" font-size="11.6" text-anchor="end" textLength="29.25" lengthAdjust="spacingAndGlyphs" fill="#111111" stroke="#111111" stroke-width="0.12">0.775</text>
<text x="371.8" y="189.4" font-size="11.6" text-anchor="end" textLength="16.25" lengthAdjust="spacingAndGlyphs" fill="#111111" stroke="#111111" stroke-width="0.12">0.8</text>
<text x="371.8" y="145.75" font-size="11.6" text-anchor="end" textLength="29.25" lengthAdjust="spacingAndGlyphs" fill="#111111" stroke="#111111" stroke-width="0.12">0.825</text>
<text x="371.8" y="102.1" font-size="11.6" text-anchor="end" textLength="22.75" lengthAdjust="spacingAndGlyphs" fill="#111111" stroke="#111111" stroke-width="0.12">0.85</text>
<text x="371.8" y="58.45" font-size="11.6" text-anchor="end" textLength="29.25" lengthAdjust="spacingAndGlyphs" fill="#111111" stroke="#111111" stroke-width="0.12">0.875</text>
<text x="371.8" y="14.8" font-size="11.6" text-anchor="end" textLength="16.25" lengthAdjust="spacingAndGlyphs" fill="#111111" stroke="#111111" stroke-width="0.12">0.9</text>
<text x="600.1" y="276.8" font-size="11.6" text-anchor="start" textLength="22.75" lengthAdjust="spacingAndGlyphs" fill="#111111" stroke="#111111" stroke-width="0.12">1.23</text>
<text x="600.1" y="232.03" font-size="11.6" text-anchor="start" textLength="22.75" lengthAdjust="spacingAndGlyphs" fill="#111111" stroke="#111111" stroke-width="0.12">1.24</text>
<text x="600.1" y="187.27" font-size="11.6" text-anchor="start" textLength="22.75" lengthAdjust="spacingAndGlyphs" fill="#111111" stroke="#111111" stroke-width="0.12">1.25</text>
<text x="600.1" y="142.5" font-size="11.6" text-anchor="start" textLength="22.75" lengthAdjust="spacingAndGlyphs" fill="#111111" stroke="#111111" stroke-width="0.12">1.26</text>
<text x="600.1" y="97.73" font-size="11.6" text-anchor="start" textLength="22.75" lengthAdjust="spacingAndGlyphs" fill="#111111" stroke="#111111" stroke-width="0.12">1.27</text>
<text x="600.1" y="52.97" font-size="11.6" text-anchor="start" textLength="22.75" lengthAdjust="spacingAndGlyphs" fill="#111111" stroke="#111111" stroke-width="0.12">1.28</text>
<text x="600.1" y="8.2" font-size="11.6" text-anchor="start" textLength="22.75" lengthAdjust="spacingAndGlyphs" fill="#111111" stroke="#111111" stroke-width="0.12">1.29</text>
<text x="374.4" y="284.8" font-size="11.6" text-anchor="middle" textLength="6.5" lengthAdjust="spacingAndGlyphs" fill="#111111" stroke="#111111" stroke-width="0.12">0</text>
<text x="430.1" y="284.8" font-size="11.6" text-anchor="middle" textLength="6.5" lengthAdjust="spacingAndGlyphs" fill="#111111" stroke="#111111" stroke-width="0.12">1</text>
<text x="485.8" y="284.8" font-size="11.6" text-anchor="middle" textLength="6.5" lengthAdjust="spacingAndGlyphs" fill="#111111" stroke="#111111" stroke-width="0.12">2</text>
<text x="541.5" y="284.8" font-size="11.6" text-anchor="middle" textLength="6.5" lengthAdjust="spacingAndGlyphs" fill="#111111" stroke="#111111" stroke-width="0.12">3</text>
<text x="597.2" y="284.8" font-size="11.6" text-anchor="middle" textLength="6.5" lengthAdjust="spacingAndGlyphs" fill="#111111" stroke="#111111" stroke-width="0.12">4</text>
<text transform="translate(423.95 299) scale(1.12 1)" x="-0.21 7.15 13.19 17.55 21.82 27.15 33.15 36.59 39.57 45.51 50.83 56.73 61.15 64.44 67.62 73.03 75.8 78.72 86.01 89.19 94.21" y="0" font-size="11.1" fill="#111111" stroke="#111111" stroke-width="0.12">Current density [A/cm</text>
<text x="539.9" y="294.2" font-size="6.8" fill="#111111" stroke="#111111" stroke-width="0.12" textLength="3.6" lengthAdjust="spacingAndGlyphs">2</text>
<text x="543.4" y="299" font-size="11.1" fill="#111111" stroke="#111111" stroke-width="0.12" textLength="3.6" lengthAdjust="spacingAndGlyphs">]</text>
<text transform="translate(337.1 206.7) rotate(-90) scale(1.12 1)" x="-1.12 5.91 11.33 16.87 21.08 26.36 32.31 37.63 39.48 46.58 53.43 60.09 63.03 67.74 73.29 76.7 82.82 87.03 92.58 95.86 98.7 104.37 110.27 112.99 116.3 119.61" y="0" font-size="12.2" fill="#111111" stroke="#111111" stroke-width="0.12">Average ACL saturation [-]</text>
<text transform="translate(629.3 66.2) rotate(90) scale(1.12 1)" x="-0.77 9.32 14.26 19.79 21.64 28.75 35.59 42.26 45.09 51.06 56.44 61.07 63.9 70.01 74.2 79.56 84.23 88.81 94.94 99.13 104.45 107.16 110.83 116.8 122.36 126.31" y="0" font-size="12.2" fill="#111111" stroke="#111111" stroke-width="0.12">Max ACL gas pressure [bar]</text>
<text x="396.4" y="71.2" font-size="14.6" fill="#111111" stroke="#111111" stroke-width="0.15" textLength="8" lengthAdjust="spacingAndGlyphs">b</text>
<text x="404.6" y="70.4" font-size="12.6" fill="#111111" stroke="#111111" stroke-width="0.15" textLength="4.2" lengthAdjust="spacingAndGlyphs">)</text>
</svg></body></html>
